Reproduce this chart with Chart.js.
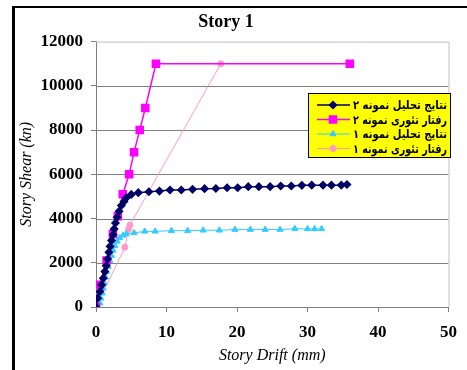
<!DOCTYPE html>
<html>
<head>
<meta charset="utf-8">
<script src="https://cdn.jsdelivr.net/npm/chart.js@4/dist/chart.umd.min.js"></script>
<style>
  html, body { margin: 0; padding: 0; background: #fff; }
  #wrap { position: relative; width: 467px; height: 370px; }
</style>
</head>
<body>
<div id="wrap"><canvas id="chart" width="467" height="370"></canvas></div>
<script>
// data (drift in mm, shear in kn)
const analysis2Drift = [0, 0.23, 0.56, 0.8, 1.03, 1.26, 1.45, 1.64, 1.83, 2.0, 2.2, 2.43, 2.57, 2.76, 3.0, 3.27, 3.6, 3.97, 4.3, 5.0, 6.0, 7.5, 9.0, 10.5, 12.1, 13.7, 15.4, 17.0, 18.6, 20.1, 21.6, 23.1, 24.7, 26.2, 27.7, 29.2, 30.6, 32.2, 33.4, 34.8, 35.6];
const analysis2Shear = [0, 400, 700, 1000, 1300, 1600, 1860, 2170, 2470, 2740, 3010, 3270, 3530, 3800, 4060, 4330, 4590, 4770, 4940, 5090, 5170, 5210, 5240, 5290, 5290, 5320, 5350, 5360, 5390, 5390, 5440, 5440, 5440, 5470, 5470, 5500, 5510, 5510, 5510, 5510, 5540];

const theory2Drift = [0, 0.5, 1.5, 2.4, 3.1, 3.8, 4.7, 5.4, 6.2, 7.0, 8.5, 36];
const theory2Shear = [0, 1000, 2100, 3300, 4100, 5100, 6000, 7000, 8000, 9000, 11000, 11000];

const analysis1Drift = [0, 0.56, 0.7, 0.89, 1.03, 1.17, 1.36, 1.5, 1.73, 1.97, 2.2, 2.43, 2.67, 3.0, 3.37, 3.84, 4.3, 5.4, 6.9, 8.4, 10.7, 13.0, 15.2, 17.5, 19.7, 21.9, 24.0, 26.1, 28.2, 30.0, 31.0, 32.0];
const analysis1Shear = [0, 170, 390, 620, 850, 1080, 1350, 1600, 1830, 2100, 2320, 2560, 2770, 2970, 3120, 3240, 3300, 3350, 3420, 3420, 3450, 3450, 3470, 3470, 3500, 3500, 3500, 3500, 3540, 3530, 3530, 3530];

const theory1Drift = [0, 4.1, 4.6, 4.8, 17.7];
const theory1Shear = [0, 2700, 3500, 3700, 11000];

const seriesNames = ['نتایج تحلیل نمونه ۲', 'رفتار تئوری نمونه ۲', 'نتایج تحلیل نمونه ۱', 'رفتار تئوری نمونه ۱'];
const xTicks = [0, 10, 20, 30, 40, 50];
const yTicks = [0, 2000, 4000, 6000, 8000, 10000, 12000];

const serif = "'Liberation Serif', 'Times New Roman', serif";

function pts(xs, ys) {
  return xs.map((x, i) => ({ x: x, y: ys[i] }));
}

// frame, plot border and the yellow legend
const extras = {
  id: 'extras',
  beforeDraw(chart) {
    const ctx = chart.ctx;
    ctx.save();
    ctx.fillStyle = '#fff';
    ctx.fillRect(0, 0, chart.width, chart.height);
    ctx.restore();
  },
  beforeDatasetsDraw(chart) {
    const ctx = chart.ctx;
    const a = chart.chartArea;
    const y = chart.scales.y;
    ctx.save();
    ctx.lineWidth = 1;
    // grey grid lines inside the plot
    ctx.strokeStyle = '#808080';
    yTicks.slice(1, -1).forEach(v => {
      const py = Math.round(y.getPixelForValue(v)) + 0.5;
      ctx.beginPath();
      ctx.moveTo(a.left, py);
      ctx.lineTo(a.right, py);
      ctx.stroke();
    });
    // light top and right border
    ctx.strokeStyle = '#c0c0c0';
    ctx.beginPath();
    ctx.moveTo(a.left, a.top + 0.5);
    ctx.lineTo(a.right + 0.5, a.top + 0.5);
    ctx.lineTo(a.right + 0.5, a.bottom);
    ctx.stroke();
    ctx.restore();
  },
  afterDraw(chart) {
    const ctx = chart.ctx;
    ctx.save();
    // outer frame (left + top)
    ctx.fillStyle = '#000';
    ctx.fillRect(12, 6, 3, chart.height - 6);
    ctx.fillRect(12, 6, chart.width - 12, 2);

    // legend
    const lx = 308, ly = 93, lw = 142, lh = 64;
    ctx.fillStyle = '#ffff00';
    ctx.fillRect(lx, ly, lw, lh);
    ctx.strokeStyle = '#000';
    ctx.lineWidth = 1;
    ctx.strokeRect(lx + 0.5, ly + 0.5, lw, lh);
    chart.data.datasets.forEach((ds, i) => {
      const y = ly + 12 + i * 14.5;
      ctx.strokeStyle = ds.borderColor;
      ctx.lineWidth = ds.borderWidth;
      ctx.beginPath();
      ctx.moveTo(lx + 9, y);
      ctx.lineTo(lx + 42, y);
      ctx.stroke();
      ctx.fillStyle = ds.backgroundColor;
      ctx.strokeStyle = ds.borderColor;
      Chart.helpers.drawPoint(ctx, {
        pointStyle: ds.pointStyle,
        radius: ds.pointRadius,
        borderWidth: 1,
        rotation: 0
      }, lx + 25, y);
      ctx.fillStyle = '#000';
      ctx.font = "bold 12px 'DejaVu Sans', sans-serif";
      ctx.textAlign = 'right';
      ctx.textBaseline = 'middle';
      ctx.direction = 'rtl';
      ctx.fillText(seriesNames[i], lx + lw - 3, y + 1, 94);
    });
    ctx.restore();
  }
};

const ctx = document.getElementById('chart').getContext('2d');
const chart = new Chart(ctx, {
  type: 'scatter',
  data: {
    datasets: [{
      label: seriesNames[0],
      data: pts(analysis2Drift, analysis2Shear),
      showLine: true,
      borderColor: '#000066',
      backgroundColor: '#000066',
      borderWidth: 1.5,
      pointStyle: 'rectRot',
      pointRadius: 3.5
    }, {
      label: seriesNames[1],
      data: pts(theory2Drift, theory2Shear),
      showLine: true,
      borderColor: '#ff00ff',
      backgroundColor: '#ff00ff',
      borderWidth: 1.5,
      pointStyle: 'rect',
      pointRadius: 5
    }, {
      label: seriesNames[2],
      data: pts(analysis1Drift, analysis1Shear),
      showLine: true,
      borderColor: '#33ccff',
      backgroundColor: '#33ccff',
      borderWidth: 1,
      pointStyle: 'triangle',
      pointRadius: 3.5
    }, {
      label: seriesNames[3],
      data: pts(theory1Drift, theory1Shear),
      showLine: true,
      borderColor: '#ff99cc',
      backgroundColor: '#ff99cc',
      borderWidth: 1,
      pointStyle: 'circle',
      pointRadius: 3
    }]
  },
  options: {
    responsive: false,
    animation: false,
    layout: { padding: { left: 0, right: 15, top: 0, bottom: 5 } },
    plugins: {
      legend: { display: false },
      tooltip: { enabled: false },
      title: {
        display: true,
        text: 'Story 1',
        color: '#000',
        font: { family: serif, size: 18, weight: 'bold' },
        padding: { top: 12, bottom: 8 }
      }
    },
    scales: {
      x: {
        type: 'linear',
        min: 0,
        max: 50,
        afterFit: s => { s.height = 58; },
        afterBuildTicks: s => { s.ticks = xTicks.map(v => ({ value: v })); },
        grid: { drawOnChartArea: false, drawTicks: true, tickLength: 5, color: '#808080' },
        border: { display: true, color: '#808080', width: 1 },
        ticks: { color: '#000', padding: 10, maxRotation: 0, font: { family: serif, size: 17, weight: 'bold' } },
        title: {
          display: true,
          text: 'Story Drift (mm)',
          color: '#000',
          font: { family: serif, size: 16, style: 'italic' },
          padding: 0
        }
      },
      y: {
        type: 'linear',
        min: 0,
        max: 12000,
        afterFit: s => { s.width = 96; },
        afterBuildTicks: s => { s.ticks = yTicks.map(v => ({ value: v })); },
        grid: { drawOnChartArea: false, drawTicks: true, tickLength: 5, color: '#808080' },
        border: { display: true, color: '#808080', width: 1 },
        ticks: {
          color: '#000',
          padding: 8,
          font: { family: serif, size: 17, weight: 'bold' },
          callback: v => String(v)
        },
        title: {
          display: true,
          text: 'Story Shear (kn)',
          color: '#000',
          font: { family: serif, size: 16, style: 'italic' },
          padding: { top: 17, bottom: 0 }
        }
      }
    }
  },
  plugins: [extras]
});
</script>
</body>
</html>
